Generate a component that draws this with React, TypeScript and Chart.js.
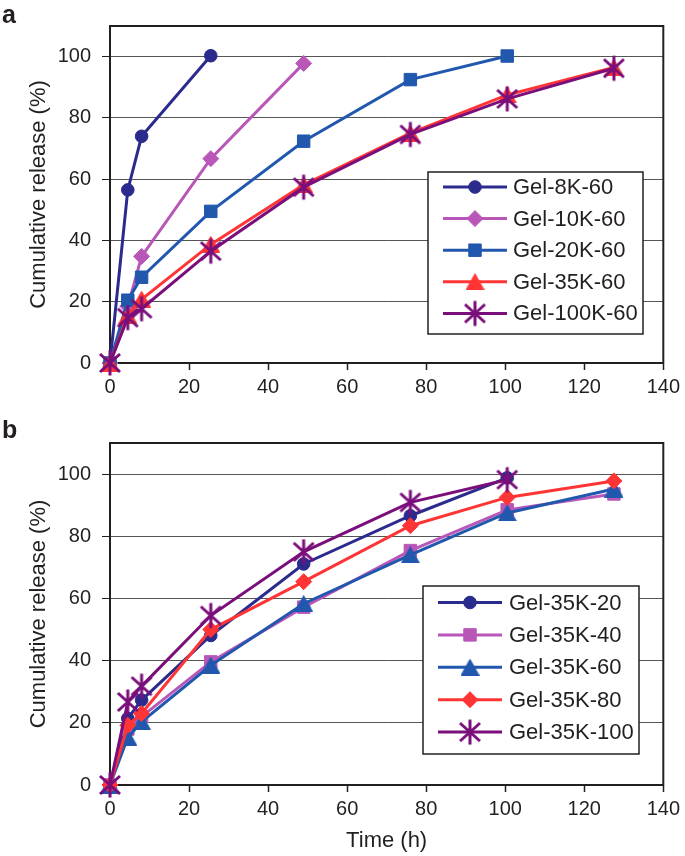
import React, { useEffect, useRef } from 'react';
import { Chart, registerables } from 'chart.js';

Chart.register(...registerables);

// ---------- data ----------
const timeHours = [0, 4.5, 8, 25.5, 49, 76, 100.5, 127.5];
const xTickStep = 20;
const xRange = [0, 140];
const yRange = [0, 110];
const yTickStep = 20;
const yTickMax = 100;

const namesA = ['Gel-8K-60', 'Gel-10K-60', 'Gel-20K-60', 'Gel-35K-60', 'Gel-100K-60'];
const gel8K60 = [0, 56.5, 74, 100.3];
const gel10K60 = [0, 18.5, 34.8, 66.7, 97.8];
const gel20K60 = [0, 20.5, 28, 49.5, 72.4, 92.5, 100.2];
const gel35K60a = [0, 15.5, 20.8, 38.7, 58.2, 75, 87.5, 96.5];
const gel100K60 = [0, 14.8, 17.7, 36.5, 57.4, 74.6, 86.2, 96.2];

const namesB = ['Gel-35K-20', 'Gel-35K-40', 'Gel-35K-60', 'Gel-35K-80', 'Gel-35K-100'];
const gel35K20 = [0, 21.4, 27.3, 48.1, 71.1, 86.6, 98.8];
const gel35K40 = [0, 18, 22, 39.6, 57.2, 75.4, 88.5, 93.6];
const gel35K60b = [0, 15.3, 20.3, 38.5, 58.3, 74, 87.5, 95.2];
const gel35K80 = [0, 19.2, 23, 50, 65.4, 83.4, 92.5, 97.8];
const gel35K100 = [0, 26.7, 31.8, 54.5, 75, 90.9, 98.2];

// ---------- styles ----------
const NAVY = '#2B2B8E';
const ORCHID = '#B957B9';
const BLUE = '#2158AE';
const RED = '#FF3535';
const PURPLE = '#7A0F7C';
const INK = '#231F20';
const FONT = '"Liberation Sans", Arial, Helvetica, sans-serif';

function makeStar(color: string) {
  const c = document.createElement('canvas');
  c.width = 26;
  c.height = 28;
  const g = c.getContext('2d')!;
  g.strokeStyle = color;
  g.lineWidth = 3;
  const cx = 13, cy = 14;
  g.beginPath();
  g.moveTo(cx - 10, cy - 9); g.lineTo(cx + 10, cy + 9);
  g.moveTo(cx + 10, cy - 9); g.lineTo(cx - 10, cy + 9);
  g.moveTo(cx, cy - 12.5); g.lineTo(cx, cy + 12.5);
  g.stroke();
  return c;
}

function makeTriangle(color: string) {
  const c = document.createElement('canvas');
  c.width = 19;
  c.height = 17;
  const g = c.getContext('2d')!;
  g.fillStyle = color;
  g.strokeStyle = color;
  g.lineWidth = 1;
  g.beginPath();
  g.moveTo(9.5, 0.5); g.lineTo(18.5, 16.5); g.lineTo(0.5, 16.5); g.closePath();
  g.fill(); g.stroke();
  return c;
}

type MarkerSpec = { style: any; radius: number };

function markerFor(kind: string, color: string): MarkerSpec {
  if (kind === 'star') return { style: makeStar(color), radius: 10 };
  if (kind === 'triangle') return { style: makeTriangle(color), radius: 9 };
  if (kind === 'rect') return { style: 'rect', radius: 8.8 };
  if (kind === 'rectRot') return { style: 'rectRot', radius: 8 };
  return { style: 'circle', radius: 6.3 };
}

function drawMarker(ctx: CanvasRenderingContext2D, m: MarkerSpec, color: string, x: number, y: number) {
  const s = m.style;
  if (typeof s !== 'string') {
    ctx.drawImage(s, x - s.width / 2, y - s.height / 2, s.width, s.height);
    return;
  }
  const r = m.radius;
  ctx.fillStyle = color;
  ctx.strokeStyle = color;
  ctx.lineWidth = 1;
  ctx.beginPath();
  if (s === 'circle') {
    ctx.arc(x, y, r, 0, Math.PI * 2);
  } else if (s === 'rect') {
    const h = r * Math.SQRT1_2;
    ctx.rect(x - h, y - h, 2 * h, 2 * h);
  } else if (s === 'rectRot') {
    ctx.moveTo(x - r, y); ctx.lineTo(x, y - r); ctx.lineTo(x + r, y); ctx.lineTo(x, y + r); ctx.closePath();
  }
  ctx.fill();
  ctx.stroke();
}

const framePlugin = {
  id: 'frame',
  beforeDatasetsDraw(chart: any) {
    const { ctx, chartArea: a } = chart;
    ctx.save();
    ctx.strokeStyle = INK;
    ctx.lineWidth = 2;
    ctx.beginPath();
    ctx.moveTo(a.left - 1, a.top);
    ctx.lineTo(a.right, a.top);
    ctx.lineTo(a.right, a.bottom + 1);
    ctx.stroke();
    ctx.restore();
  },
};

const boxLegendPlugin = {
  id: 'boxLegend',
  afterDraw(chart: any, _args: any, o: any) {
    const ctx: CanvasRenderingContext2D = chart.ctx;
    ctx.save();
    ctx.fillStyle = '#ffffff';
    ctx.fillRect(o.left, o.top, o.width, o.height);
    ctx.strokeStyle = INK;
    ctx.lineWidth = 1.5;
    ctx.strokeRect(o.left, o.top, o.width, o.height);
    chart.data.datasets.forEach((ds: any, i: number) => {
      const y = o.firstRow + i * o.rowGap;
      ctx.strokeStyle = ds.borderColor;
      ctx.lineWidth = 3;
      ctx.beginPath();
      ctx.moveTo(o.left + o.lineStart, y);
      ctx.lineTo(o.left + o.lineEnd, y);
      ctx.stroke();
      drawMarker(ctx, { style: ds.pointStyle, radius: ds.pointRadius }, ds.borderColor, o.left + (o.lineStart + o.lineEnd) / 2, y);
      ctx.fillStyle = INK;
      ctx.font = `22px ${FONT}`;
      ctx.textBaseline = 'middle';
      ctx.textAlign = 'left';
      ctx.fillText(ds.label, o.left + o.textX, y + 1);
    });
    ctx.font = `bold 25px ${FONT}`;
    ctx.textBaseline = 'alphabetic';
    ctx.fillStyle = INK;
    ctx.fillText(o.letter, 2, o.letterY);
    ctx.restore();
  },
};

function buildDatasets(names: string[], series: number[][], colors: string[], kinds: string[]) {
  return names.map((name, i) => {
    const m = markerFor(kinds[i], colors[i]);
    return {
      label: name,
      data: series[i].map((v, k) => ({ x: timeHours[k], y: v })),
      borderColor: colors[i],
      backgroundColor: colors[i],
      pointBackgroundColor: colors[i],
      pointBorderColor: colors[i],
      pointBorderWidth: 1,
      pointStyle: m.style,
      pointRadius: m.radius,
      borderWidth: 3,
      tension: 0,
      clip: false,
      order: names.length - i,
    };
  });
}

function makeConfig(datasets: any[], p: { padTop: number; xAxisHeight: number; xTitle: string | null; legend: any }) {
  return {
    type: 'line',
    data: { datasets },
    plugins: [framePlugin, boxLegendPlugin],
    options: {
      responsive: false,
      animation: false,
      layout: { padding: { top: p.padTop, right: 20, left: 0, bottom: 0 } },
      plugins: {
        legend: { display: false },
        tooltip: { enabled: false },
        boxLegend: p.legend,
      },
      scales: {
        x: {
          type: 'linear',
          min: xRange[0],
          max: xRange[1],
          afterFit: (s: any) => { s.height = p.xAxisHeight; },
          ticks: { stepSize: xTickStep, color: INK, font: { family: FONT, size: 20 }, padding: 5, maxRotation: 0 },
          grid: { drawOnChartArea: false, drawTicks: true, tickLength: 7, tickColor: INK, tickWidth: 1.5 },
          border: { display: true, color: INK, width: 2 },
          title: {
            display: !!p.xTitle,
            text: p.xTitle || '',
            color: INK,
            font: { family: FONT, size: 22 },
            padding: { top: 0, bottom: 2 },
          },
        },
        y: {
          type: 'linear',
          min: yRange[0],
          max: yRange[1],
          afterFit: (s: any) => { s.width = 110; },
          afterBuildTicks: (s: any) => { s.ticks = s.ticks.filter((t: any) => t.value <= yTickMax); },
          ticks: { stepSize: yTickStep, color: INK, font: { family: FONT, size: 20 }, padding: 11 },
          grid: { drawOnChartArea: true, color: '#555555', lineWidth: 1, drawTicks: true, tickLength: 8, tickColor: INK, tickWidth: 1 },
          border: { display: true, color: INK, width: 2 },
          title: {
            display: true,
            text: 'Cumulative release (%)',
            color: INK,
            font: { family: FONT, size: 22 },
            padding: { top: 26, bottom: 0 },
          },
        },
      },
    },
  } as any;
}

export default function App() {
  const refA = useRef<HTMLCanvasElement>(null);
  const refB = useRef<HTMLCanvasElement>(null);

  useEffect(() => {
    document.body.style.margin = '0';
    const dsA = buildDatasets(
      namesA,
      [gel8K60, gel10K60, gel20K60, gel35K60a, gel100K60],
      [NAVY, ORCHID, BLUE, RED, PURPLE],
      ['circle', 'rectRot', 'rect', 'triangle', 'star']
    );
    const dsB = buildDatasets(
      namesB,
      [gel35K20, gel35K40, gel35K60b, gel35K80, gel35K100],
      [NAVY, ORCHID, BLUE, RED, PURPLE],
      ['circle', 'rect', 'triangle', 'rectRot', 'star']
    );
    const chartA = new Chart(refA.current!, makeConfig(dsA, {
      padTop: 26,
      xAxisHeight: 57,
      xTitle: null,
      legend: { left: 428, top: 172, width: 215, height: 162, firstRow: 187, rowGap: 31.6, lineStart: 15, lineEnd: 79, textX: 85, letter: 'a', letterY: 23 },
    }));
    const chartB = new Chart(refB.current!, makeConfig(dsB, {
      padTop: 22.5,
      xAxisHeight: 71,
      xTitle: 'Time (h)',
      legend: { left: 423, top: 166, width: 216, height: 168, firstRow: 182.5, rowGap: 32.4, lineStart: 15, lineEnd: 79, textX: 86, letter: 'b', letterY: 18 },
    }));
    return () => {
      chartA.destroy();
      chartB.destroy();
    };
  }, []);

  return (
    <div style={{ position: 'relative', width: 685, height: 856, background: '#fff', overflow: 'hidden' }}>
      <canvas ref={refA} width={685} height={420} style={{ position: 'absolute', left: 0, top: 0 }} />
      <canvas ref={refB} width={685} height={436} style={{ position: 'absolute', left: 0, top: 420 }} />
    </div>
  );
}
